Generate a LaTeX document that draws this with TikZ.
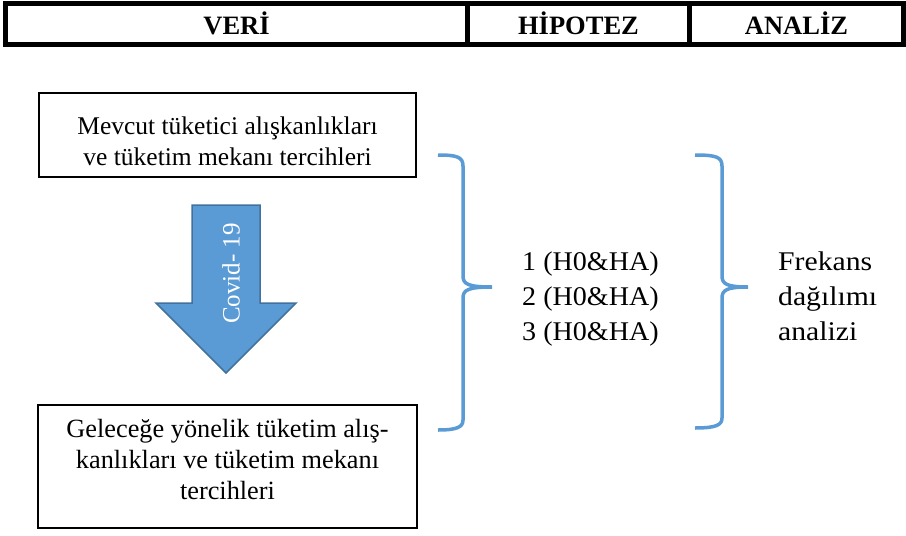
\documentclass[tikz,border=0pt]{standalone}
\usepackage{fontspec}
\setmainfont{Liberation Serif}
\newfontfamily\listfont[FakeStretch=1.04]{Liberation Serif}
\newfontfamily\widefont[FakeStretch=1.1]{Liberation Serif}
\usetikzlibrary{positioning}
\definecolor{officeblue}{HTML}{5B9BD5}
\definecolor{officeblueline}{HTML}{41719C}

\begin{document}
\begin{tikzpicture}[
    x=1pt, y=-1pt, % pixel-like coordinates, y grows downward
    headcell/.style={draw, line width=5pt, minimum height=41pt, inner sep=0pt, outer sep=0pt,
        text height=21pt, text depth=0pt, font=\fontsize{26.5}{30}\selectfont\bfseries}, % header cells
    framebox/.style={draw, line width=1.5pt, inner sep=0pt}, % text boxes
    boxtext/.style={align=center, inner sep=0pt, font=\fontsize{25.5}{31}\selectfont},
    listtext/.style={inner sep=0pt, font=\fontsize{27}{35}\listfont},
    covidtext/.style={white, inner sep=0pt, font=\fontsize{25}{30}\selectfont},
    bracestyle/.style={draw=officeblue, line width=3.5pt}, % curly braces
    bigarrow/.style={fill=officeblue, draw=officeblueline, line width=1.5pt, line join=miter}
]
    \useasboundingbox (0,0) rectangle (906,536);

    % Header bar
    \node[headcell, minimum width=462pt] (veri) at (236.5,24) {VERİ};
    \node[headcell, minimum width=222pt, right=0pt of veri] (hipotez) {HİPOTEZ};
    \node[headcell, minimum width=214pt, right=0pt of hipotez] (analiz) {ANALİZ};

    % Data boxes
    \node[framebox, minimum width=377pt, minimum height=84pt] (mevcut) at (227.5,135) {};
    \node[boxtext, anchor=north] (mevcuttxt) at (227.5,117)
        {Mevcut tüketici alışkanlıkları\\ve tüketim mekanı tercihleri};

    \node[framebox, minimum width=379pt, minimum height=123pt] (gelecek) at (227.5,466.5) {};
    \node[boxtext, anchor=north, font=\fontsize{26.3}{31}\selectfont] (gelecektxt) at (227.5,419.5)
        {Geleceğe yönelik tüketim alış-\\kanlıkları ve tüketim mekanı\\tercihleri};

    % Block arrow
    \draw[bigarrow] (192,205) -- (260,205) -- (260,303) -- (296,303) -- (226,373)
        -- (156,303) -- (192,303) -- cycle;
    \node[covidtext, rotate=90, anchor=base] (covid) at (239.5,273.5) {Covid- 19};

    % Braces
    \draw[bracestyle] (438,155) .. controls (457,155) and (463,157) .. (463,166)
        -- (463,276) .. controls (463,284) and (468,287) .. (492,287)
        .. controls (468,287) and (463,290) .. (463,298)
        -- (463,420) .. controls (463,427) and (457,430) .. (438,430);
    \draw[bracestyle] (695,155) .. controls (716,155) and (722,157) .. (722,166)
        -- (722,276) .. controls (722,284) and (727,287) .. (748,287)
        .. controls (727,287) and (722,290) .. (722,298)
        -- (722,418) .. controls (722,425) and (716,428) .. (695,428);

    % Hypotheses
    \foreach \i/\yy in {1/270, 2/305, 3/340} {
        \node[listtext, anchor=base west] (hyp\i) at (522,\yy) {\i\ (H0\&HA)};
    }

    % Analysis
    \node[listtext, align=left, anchor=north west, font=\fontsize{27}{35}\widefont] (frekans) at (778,252)
        {Frekans\\dağılımı\\analizi};

\end{tikzpicture}
\end{document}
